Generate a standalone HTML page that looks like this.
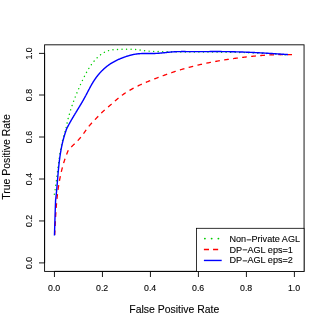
<!DOCTYPE html>
<html><head><meta charset="utf-8"><title>ROC</title>
<style>html,body{margin:0;padding:0;background:#fff;}body{width:327px;height:327px;overflow:hidden;}</style>
</head><body>
<svg width="327" height="327" viewBox="0 0 327 327" style="display:block;font-family:'Liberation Sans',sans-serif">
<rect width="327" height="327" fill="#fff"/>
<path d="M54.33,194.20L54.40,193.77L54.48,193.34L54.56,192.91L54.63,192.48L54.71,192.05L54.78,191.62L54.86,191.19L54.93,190.76L55.00,190.33L55.07,189.90L55.14,189.46L55.21,189.03L55.27,188.60L55.34,188.17L55.41,187.74L55.47,187.31L55.54,186.87L55.60,186.44L55.67,186.01L55.73,185.58L55.79,185.14L55.85,184.71L55.91,184.28L55.97,183.84L56.03,183.41L56.09,182.98L56.15,182.54L56.21,182.11L56.27,181.68L56.33,181.24L56.38,180.81L56.44,180.38L56.49,179.94L56.55,179.51L56.61,179.08L56.66,178.64L56.72,178.21L56.77,177.77L56.82,177.34L56.88,176.90L56.93,176.47L56.98,176.04L57.04,175.60L57.09,175.17L57.14,174.73L57.20,174.30L57.25,173.86L57.30,173.43L57.35,172.99L57.41,172.56L57.46,172.13L57.51,171.69L57.56,171.26L57.62,170.82L57.67,170.39L57.72,169.95L57.77,169.52L57.83,169.08L57.88,168.65L57.93,168.22L57.98,167.78L58.04,167.35L58.09,166.91L58.15,166.48L58.20,166.04L58.25,165.61L58.31,165.18L58.36,164.74L58.42,164.31L58.47,163.87L58.53,163.44L58.58,163.01L58.64,162.57L58.70,162.14L58.76,161.71L58.81,161.27L58.87,160.84L58.93,160.41L58.99,159.97L59.05,159.54L59.11,159.11L59.17,158.67L59.23,158.24L59.29,157.81L59.36,157.38L59.42,156.94L59.48,156.51L59.55,156.08L59.62,155.65L59.68,155.21L59.75,154.78L59.82,154.35L59.89,153.92L59.95,153.49L60.02,153.06L60.10,152.63L60.17,152.20L60.24,151.77L60.31,151.34L60.39,150.90L60.46,150.47L60.54,150.04L60.62,149.62L60.70,149.19L60.78,148.76L60.86,148.33L60.94,147.90L61.02,147.47L61.11,147.04L61.19,146.61L61.28,146.18L61.37,145.76L61.45,145.33L61.54,144.90L61.64,144.47L61.73,144.05L61.82,143.62L61.92,143.19L62.01,142.77L62.11,142.34L62.21,141.92L62.31,141.49L62.41,141.07L62.51,140.64L62.62,140.22L62.73,139.79L62.83,139.37L62.94,138.94L63.05,138.52L63.16,138.10L63.28,137.67L63.39,137.25L63.51,136.83L63.63,136.41L63.75,135.99L63.87,135.56L63.99,135.14L64.12,134.72L64.24,134.30L64.37,133.88L64.50,133.46L64.63,133.04L64.77,132.62L64.90,132.21L65.04,131.79L65.18,131.37L65.32,130.95L65.46,130.53L65.61,130.12L65.72,129.59L65.81,129.05L65.91,128.51L66.01,127.97L66.11,127.43L66.22,126.89L66.32,126.36L66.43,125.82L66.54,125.28L66.66,124.75L66.77,124.21L66.89,123.68L67.01,123.14L67.13,122.61L67.25,122.07L67.38,121.54L67.51,121.01L67.63,120.48L67.77,119.95L67.90,119.42L68.03,118.88L68.17,118.36L68.31,117.83L68.45,117.30L68.59,116.77L68.74,116.24L68.89,115.71L69.03,115.19L69.18,114.66L69.34,114.14L69.49,113.61L69.64,113.09L69.80,112.56L69.96,112.04L70.12,111.51L70.28,110.99L70.45,110.47L70.61,109.95L70.78,109.43L70.95,108.91L71.12,108.39L71.29,107.87L71.46,107.35L71.64,106.83L71.81,106.31L71.99,105.79L72.17,105.28L72.35,104.76L72.53,104.24L72.72,103.73L72.90,103.21L73.09,102.70L73.28,102.18L73.47,101.67L73.66,101.16L73.85,100.64L74.04,100.13L74.24,99.62L74.43,99.11L74.63,98.60L74.83,98.08L75.03,97.57L75.23,97.07L75.43,96.56L75.63,96.05L75.83,95.54L76.04,95.03L76.25,94.52L76.45,94.02L76.66,93.51L76.87,93.01L77.08,92.50L77.29,91.99L77.50,91.49L77.72,90.99L77.93,90.48L78.15,89.98L78.36,89.48L78.58,88.97L78.80,88.47L79.01,87.97L79.23,87.47L79.45,86.97L79.67,86.47L79.90,85.97L80.12,85.47L80.34,84.97L80.57,84.47L80.79,83.98L81.02,83.48L81.24,82.98L81.47,82.49L81.70,81.99L81.93,81.49L82.16,81.00L82.39,80.51L82.62,80.01L82.85,79.52L83.09,79.03L83.33,78.54L83.57,78.05L83.81,77.56L84.05,77.07L84.29,76.58L84.54,76.10L84.79,75.61L85.04,75.13L85.29,74.64L85.55,74.16L85.80,73.68L86.06,73.20L86.32,72.72L86.59,72.25L86.86,71.77L87.13,71.30L87.40,70.82L87.68,70.35L87.96,69.88L88.24,69.41L88.52,68.95L88.81,68.48L89.11,68.02L89.40,67.56L89.70,67.10L90.00,66.64L90.31,66.18L90.62,65.72L90.93,65.27L91.25,64.82L91.57,64.37L91.90,63.92L92.23,63.48L92.57,63.03L92.91,62.59L93.25,62.16L93.60,61.72L93.95,61.29L94.30,60.87L94.66,60.44L95.03,60.02L95.40,59.61L95.77,59.20L96.15,58.80L96.53,58.40L96.92,58.00L97.31,57.62L97.71,57.24L98.11,56.86L98.51,56.49L98.93,56.13L99.34,55.78L99.76,55.43L100.18,55.09L100.61,54.76L101.05,54.44L101.49,54.12L101.93,53.81L102.38,53.52L102.84,53.23L103.29,52.95L103.76,52.68L104.23,52.42L104.70,52.18L105.18,51.94L105.67,51.71L106.16,51.49L106.65,51.29L107.15,51.10L107.66,50.92L108.17,50.75L108.68,50.59L109.20,50.45L109.73,50.31L110.26,50.19L110.80,50.09L111.34,49.99L111.88,49.90L112.43,49.82L112.98,49.75L113.53,49.69L114.09,49.64L114.65,49.59L115.21,49.55L115.77,49.51L116.33,49.48L116.89,49.45L117.45,49.43L118.01,49.41L118.57,49.39L119.13,49.37L119.69,49.36L120.25,49.34L120.80,49.33L121.35,49.31L121.90,49.30L122.45,49.28L123.00,49.27L123.55,49.25L124.09,49.24L124.64,49.23L125.18,49.22L125.72,49.21L126.26,49.20L126.81,49.19L127.35,49.18L127.89,49.18L128.43,49.18L128.97,49.18L129.51,49.18L130.05,49.18L130.59,49.19L131.13,49.20L131.67,49.21L132.22,49.22L132.76,49.24L133.30,49.27L133.85,49.30L134.39,49.33L134.94,49.37L135.48,49.42L136.03,49.48L136.57,49.54L137.11,49.62L137.65,49.70L138.20,49.78L138.74,49.87L139.28,49.96L139.82,50.05L140.37,50.13L140.91,50.22L141.45,50.30L141.99,50.37L142.54,50.45L143.08,50.52L143.62,50.59L144.17,50.65L144.71,50.71L145.26,50.77L145.80,50.83L146.34,50.89L146.89,50.94L147.43,50.99L147.98,51.03L148.52,51.08L149.07,51.12L149.61,51.16L150.16,51.20L150.71,51.24L151.25,51.27L151.80,51.30L152.34,51.33L152.89,51.36L153.43,51.39L153.98,51.41L154.53,51.44L155.07,51.46L155.62,51.48L156.17,51.50L156.71,51.52L157.26,51.54L157.81,51.56L158.35,51.57L158.90,51.59L159.45,51.60L159.99,51.62L160.54,51.63L161.09,51.64L161.63,51.65L162.18,51.66L162.73,51.68L163.28,51.69L163.82,51.70L164.37,51.71L164.92,51.72L165.46,51.73L166.01,51.74L166.56,51.75L167.10,51.75L167.65,51.76L168.20,51.77L168.75,51.78L169.29,51.79L169.84,51.80L170.39,51.80L170.93,51.81L171.48,51.82L172.03,51.83L172.58,51.83L173.12,51.84L173.67,51.85L174.22,51.85L174.77,51.86L175.31,51.87L175.86,51.87L176.41,51.88L176.95,51.88L177.50,51.89L178.05,51.89L178.60,51.90L179.14,51.91L179.69,51.91L180.24,51.91L180.79,51.92L181.33,51.92L181.88,51.93L182.43,51.93L182.97,51.94L183.52,51.94L184.07,51.94L184.62,51.95L185.16,51.95L185.71,51.96L186.26,51.96L186.81,51.96L187.35,51.97L187.90,51.97L188.45,51.97L189.00,51.98L189.54,51.98L190.09,51.98L190.64,51.98L191.18,51.99L191.73,51.99L192.28,51.99L192.83,52.00L193.37,52.00L193.92,52.00L194.47,52.00L195.02,52.01L195.56,52.01L196.11,52.01L196.66,52.01L197.21,52.02L197.75,52.02L198.30,52.02L198.85,52.02L199.40,52.03L199.94,52.03L200.49,52.03L201.04,52.03L201.59,52.04L202.13,52.04L202.68,52.04L203.23,52.04L203.78,52.05L204.32,52.05L204.87,52.05L205.42,52.05L205.97,52.06L206.51,52.06L207.06,52.06L207.61,52.06L208.15,52.07L208.70,52.07L209.25,52.07L209.80,52.08L210.34,52.08L210.89,52.08L211.44,52.09L211.99,52.09L212.53,52.09L213.08,52.10L213.63,52.10L214.18,52.10L214.72,52.11L215.27,52.11L215.82,52.11L216.37,52.12L216.91,52.12L217.46,52.13L218.01,52.13L218.56,52.14L219.10,52.14L219.65,52.15L220.20,52.15L220.75,52.16L221.29,52.16L221.84,52.17L222.39,52.17L222.93,52.18L223.48,52.19L224.03,52.19L224.58,52.20L225.12,52.20L225.67,52.21L226.22,52.22L226.77,52.23L227.31,52.23L227.86,52.24L228.41,52.25L228.95,52.26L229.50,52.26L230.05,52.27L230.60,52.28L231.14,52.29L231.69,52.30L232.24,52.31L232.79,52.32L233.33,52.33L233.88,52.34L234.43,52.35L234.97,52.36L235.52,52.37L236.07,52.38L236.62,52.39L237.16,52.40L237.71,52.41L238.26,52.42L238.80,52.44L239.35,52.45L239.90,52.46L240.45,52.47L240.99,52.49L241.54,52.50L242.09,52.51L242.63,52.53L243.18,52.54L243.73,52.56L244.28,52.57L244.82,52.59L245.37,52.60L245.92,52.62L246.46,52.64L247.01,52.65L247.56,52.67L248.10,52.69L248.65,52.71L249.20,52.72L249.75,52.74L250.29,52.76L250.84,52.78L251.39,52.80L251.93,52.82L252.48,52.84L253.03,52.86L253.57,52.88L254.12,52.90L254.67,52.92L255.21,52.94L255.76,52.97L256.31,52.99L256.85,53.01L257.40,53.04L257.95,53.06L258.49,53.09L259.04,53.11L259.59,53.14L260.13,53.16L260.68,53.19L261.23,53.21L261.77,53.24L262.32,53.27L262.87,53.30L263.41,53.32L263.96,53.35L264.51,53.38L265.05,53.41L265.60,53.44L266.15,53.47L266.69,53.50L267.24,53.53L267.79,53.57L268.33,53.60L268.88,53.63L269.43,53.66L269.97,53.70L270.52,53.73L271.06,53.77L271.61,53.80L272.16,53.84L272.70,53.87L273.25,53.91L273.80,53.95L274.34,53.99L274.89,54.03L275.43,54.06L275.98,54.10L276.53,54.14L277.07,54.18L277.62,54.22L278.17,54.27L278.71,54.31L279.26,54.35L279.80,54.39L280.35,54.44L280.90,54.48L281.44,54.53L281.99,54.57L282.53,54.62L283.08,54.67L283.63,54.71L284.17,54.76L284.72,54.81L285.26,54.86L285.81,54.91L286.35,54.96L286.90,55.01L287.45,55.06L287.99,55.11" fill="none" stroke="#00cd00" stroke-width="1.45" stroke-dasharray="0.01 4.52" stroke-dashoffset="0" stroke-linecap="round" stroke-linejoin="round"/>
<path d="M54.68,235.58L54.72,234.70L54.76,233.83L54.80,232.95L54.84,232.08L54.89,231.20L54.93,230.32L54.97,229.44L55.01,228.57L55.05,227.69L55.09,226.81L55.14,225.93L55.18,225.05L55.22,224.17L55.27,223.29L55.31,222.41L55.36,221.53L55.40,220.65L55.45,219.77L55.50,218.88L55.54,218.00L55.59,217.12L55.64,216.24L55.70,215.36L55.75,214.47L55.80,213.59L55.86,212.71L55.92,211.83L55.98,210.95L56.04,210.06L56.10,209.18L56.16,208.30L56.23,207.42L56.29,206.54L56.36,205.65L56.44,204.77L56.51,203.89L56.58,203.01L56.66,202.13L56.74,201.25L56.82,200.37L56.91,199.49L57.00,198.61L57.09,197.73L57.18,196.85L57.28,195.98L57.37,195.10L57.48,194.22L57.58,193.34L57.69,192.47L57.80,191.59L57.91,190.72L58.03,189.84L58.15,188.97L58.27,188.09L58.40,187.22L58.53,186.35L58.66,185.48L58.80,184.61L58.94,183.74L59.08,182.87L59.23,182.00L59.39,181.13L59.54,180.27L59.70,179.40L59.87,178.54L60.04,177.67L60.21,176.81L60.39,175.95L60.57,175.09L60.76,174.23L60.95,173.37L61.14,172.51L61.34,171.66L61.55,170.80L61.76,169.95L61.98,169.09L62.20,168.24L62.42,167.39L62.65,166.54L62.89,165.69L63.13,164.85L63.37,164.00L63.62,163.16L63.88,162.31L64.14,161.47L64.41,160.63L64.69,159.79L64.97,158.96L65.25,158.12L65.54,157.29L65.84,156.45L66.14,155.62L66.45,154.79L66.77,153.96L67.09,153.14L67.42,152.31L67.75,151.49L68.09,150.67L68.44,149.85L68.76,149.44L69.11,149.09L69.47,148.73L69.83,148.38L70.19,148.03L70.55,147.68L70.91,147.33L71.28,146.97L71.64,146.62L72.00,146.27L72.37,145.92L72.73,145.57L73.10,145.22L73.46,144.87L73.83,144.52L74.19,144.17L74.55,143.81L74.91,143.46L75.28,143.10L75.64,142.75L76.00,142.39L76.35,142.03L76.71,141.67L77.06,141.31L77.42,140.94L77.77,140.58L78.11,140.21L78.46,139.84L78.80,139.46L79.14,139.09L79.48,138.71L79.81,138.33L80.14,137.95L80.47,137.56L80.80,137.17L81.12,136.78L81.43,136.38L81.75,135.98L82.06,135.58L82.37,135.17L82.67,134.77L82.98,134.36L83.28,133.95L83.58,133.54L83.88,133.13L84.17,132.71L84.47,132.30L84.77,131.88L85.06,131.47L85.36,131.05L85.65,130.64L85.95,130.23L86.25,129.81L86.55,129.40L86.85,128.99L87.15,128.58L87.45,128.18L87.76,127.77L88.07,127.37L88.38,126.97L88.69,126.57L89.01,126.18L89.33,125.78L89.66,125.40L89.98,125.01L90.31,124.63L90.65,124.25L90.98,123.87L91.32,123.49L91.66,123.12L92.00,122.75L92.35,122.38L92.69,122.01L93.04,121.64L93.39,121.28L93.74,120.91L94.09,120.55L94.44,120.18L94.79,119.82L95.15,119.46L95.50,119.10L95.85,118.74L96.20,118.38L96.56,118.01L96.91,117.65L97.26,117.29L97.61,116.93L97.96,116.56L98.31,116.20L98.66,115.83L99.01,115.47L99.36,115.10L99.71,114.74L100.06,114.37L100.41,114.01L100.76,113.65L101.12,113.29L101.47,112.94L101.83,112.58L102.19,112.24L102.56,111.89L102.92,111.54L103.29,111.20L103.67,110.86L104.04,110.53L104.41,110.19L104.79,109.86L105.17,109.53L105.55,109.19L105.93,108.86L106.32,108.54L106.70,108.21L107.09,107.88L107.47,107.55L107.86,107.23L108.25,106.90L108.64,106.57L109.02,106.25L109.41,105.92L109.80,105.59L110.19,105.26L110.58,104.93L110.97,104.60L111.36,104.27L111.74,103.93L112.13,103.60L112.52,103.26L112.90,102.92L113.29,102.58L113.67,102.24L114.06,101.90L114.44,101.56L114.83,101.21L115.21,100.87L115.60,100.53L115.98,100.19L116.37,99.85L116.76,99.51L117.15,99.17L117.54,98.84L117.93,98.51L118.32,98.18L118.72,97.85L119.12,97.52L119.51,97.20L119.92,96.88L120.32,96.57L120.72,96.26L121.13,95.95L121.53,95.64L121.94,95.34L122.35,95.04L122.77,94.74L123.18,94.44L123.60,94.15L124.02,93.86L124.43,93.58L124.85,93.29L125.28,93.01L125.70,92.73L126.13,92.46L126.55,92.18L126.98,91.91L127.41,91.64L127.84,91.38L128.27,91.11L128.71,90.85L129.14,90.59L129.58,90.34L130.02,90.08L130.46,89.83L130.90,89.58L131.34,89.33L131.78,89.08L132.23,88.84L132.67,88.60L133.12,88.36L133.56,88.12L134.01,87.89L134.46,87.65L134.91,87.42L135.37,87.19L135.82,86.96L136.27,86.73L136.73,86.51L137.18,86.29L137.64,86.06L138.10,85.85L138.55,85.63L139.01,85.41L139.47,85.19L139.94,84.98L140.40,84.77L140.86,84.56L141.32,84.35L141.79,84.14L142.25,83.93L142.72,83.73L143.18,83.52L143.65,83.32L144.12,83.12L144.59,82.92L145.05,82.72L145.52,82.52L145.99,82.32L146.46,82.13L146.93,81.93L147.40,81.74L147.88,81.54L148.35,81.35L148.82,81.16L149.29,80.97L149.77,80.78L150.24,80.59L150.71,80.40L151.19,80.21L151.66,80.02L152.14,79.84L152.61,79.65L153.09,79.47L153.56,79.28L154.04,79.10L154.51,78.91L154.99,78.73L155.46,78.54L155.94,78.36L156.41,78.18L156.89,77.99L157.37,77.81L157.84,77.63L158.32,77.45L158.80,77.27L159.27,77.09L159.75,76.91L160.23,76.73L160.70,76.55L161.18,76.37L161.66,76.20L162.14,76.02L162.62,75.84L163.09,75.67L163.57,75.49L164.05,75.32L164.53,75.14L165.01,74.97L165.49,74.80L165.97,74.62L166.45,74.45L166.92,74.28L167.40,74.11L167.88,73.94L168.36,73.77L168.84,73.60L169.33,73.43L169.81,73.27L170.29,73.10L170.77,72.94L171.25,72.77L171.73,72.61L172.21,72.44L172.70,72.28L173.18,72.12L173.66,71.96L174.14,71.80L174.63,71.64L175.11,71.48L175.59,71.32L176.08,71.17L176.56,71.01L177.05,70.86L177.53,70.70L178.01,70.55L178.50,70.40L178.99,70.25L179.47,70.10L179.96,69.95L180.44,69.80L180.93,69.65L181.42,69.50L181.90,69.36L182.39,69.21L182.88,69.07L183.37,68.93L183.85,68.79L184.34,68.64L184.83,68.50L185.32,68.36L185.81,68.23L186.30,68.09L186.79,67.95L187.28,67.82L187.77,67.68L188.26,67.55L188.75,67.42L189.24,67.28L189.73,67.15L190.22,67.02L190.72,66.89L191.21,66.76L191.70,66.64L192.19,66.51L192.68,66.38L193.18,66.26L193.67,66.13L194.16,66.01L194.66,65.89L195.15,65.77L195.64,65.64L196.14,65.52L196.63,65.41L197.13,65.29L197.62,65.17L198.12,65.05L198.61,64.94L199.11,64.82L199.60,64.71L200.10,64.59L200.60,64.48L201.09,64.37L201.59,64.26L202.09,64.14L202.58,64.04L203.08,63.93L203.58,63.82L204.07,63.71L204.57,63.60L205.07,63.50L205.57,63.39L206.06,63.29L206.56,63.18L207.06,63.08L207.56,62.98L208.06,62.88L208.56,62.77L209.06,62.67L209.56,62.57L210.05,62.48L210.55,62.38L211.05,62.28L211.55,62.18L212.05,62.09L212.55,61.99L213.05,61.90L213.55,61.80L214.06,61.71L214.56,61.62L215.06,61.52L215.56,61.43L216.06,61.34L216.56,61.25L217.06,61.16L217.56,61.07L218.06,60.98L218.57,60.90L219.07,60.81L219.57,60.72L220.07,60.64L220.57,60.55L221.08,60.47L221.58,60.38L222.08,60.30L222.58,60.22L223.09,60.14L223.59,60.05L224.09,59.97L224.59,59.89L225.10,59.81L225.60,59.73L226.10,59.66L226.61,59.58L227.11,59.50L227.61,59.42L228.12,59.35L228.62,59.27L229.13,59.20L229.63,59.12L230.13,59.05L230.64,58.97L231.14,58.90L231.65,58.83L232.15,58.76L232.65,58.68L233.16,58.61L233.66,58.54L234.17,58.47L234.67,58.40L235.18,58.33L235.68,58.26L236.19,58.20L236.69,58.13L237.19,58.06L237.70,57.99L238.20,57.93L238.71,57.86L239.21,57.80L239.72,57.73L240.22,57.67L240.73,57.60L241.23,57.54L241.74,57.48L242.24,57.42L242.75,57.35L243.25,57.29L243.76,57.23L244.26,57.17L244.77,57.11L245.28,57.05L245.78,56.99L246.29,56.94L246.79,56.88L247.30,56.82L247.80,56.77L248.31,56.71L248.81,56.65L249.32,56.60L249.83,56.55L250.33,56.49L250.84,56.44L251.34,56.39L251.85,56.34L252.36,56.28L252.86,56.23L253.37,56.18L253.87,56.14L254.38,56.09L254.89,56.04L255.39,55.99L255.90,55.95L256.41,55.90L256.91,55.85L257.42,55.81L257.93,55.77L258.43,55.72L258.94,55.68L259.45,55.64L259.95,55.60L260.46,55.56L260.97,55.52L261.47,55.48L261.98,55.44L262.49,55.40L263.00,55.36L263.50,55.33L264.01,55.29L264.52,55.26L265.02,55.22L265.53,55.19L266.04,55.16L266.55,55.13L267.05,55.10L267.56,55.07L268.07,55.04L268.58,55.01L269.09,54.98L269.59,54.95L270.10,54.93L270.61,54.90L271.12,54.88L271.63,54.85L272.13,54.83L272.64,54.81L273.15,54.79L273.66,54.77L274.17,54.75L274.68,54.73L275.19,54.71L275.69,54.69L276.20,54.68L276.71,54.66L277.22,54.65L277.73,54.63L278.24,54.62L278.75,54.61L279.26,54.60L279.77,54.59L280.28,54.58L280.79,54.57L281.30,54.56L281.81,54.56L282.32,54.55L282.83,54.55L283.33,54.54L283.84,54.54L284.35,54.54L284.86,54.54L285.37,54.54L285.89,54.54L286.40,54.54L286.91,54.54L287.42,54.55L287.93,54.55L288.44,54.56L288.95,54.56L289.46,54.57L289.97,54.58L290.48,54.59L290.99,54.60L291.50,54.61L292.01,54.63" fill="none" stroke="#ff0000" stroke-width="1.3" stroke-dasharray="4.7 4.38" stroke-dashoffset="-0.5" stroke-linejoin="round"/>
<path d="M54.45,235.60L54.75,226.00L55.05,216.00L55.35,207.00L55.60,200.00L55.69,199.53L55.75,199.05L55.80,198.58L55.86,198.11L55.91,197.64L55.96,197.17L56.02,196.70L56.07,196.23L56.12,195.75L56.17,195.28L56.22,194.81L56.26,194.34L56.31,193.86L56.36,193.39L56.40,192.92L56.45,192.45L56.50,191.97L56.54,191.50L56.59,191.03L56.63,190.55L56.67,190.08L56.72,189.61L56.76,189.13L56.80,188.66L56.84,188.19L56.89,187.71L56.93,187.24L56.97,186.76L57.01,186.29L57.05,185.82L57.09,185.34L57.13,184.87L57.17,184.39L57.21,183.92L57.25,183.45L57.29,182.97L57.33,182.50L57.37,182.02L57.41,181.55L57.45,181.07L57.48,180.60L57.52,180.13L57.56,179.65L57.60,179.18L57.64,178.70L57.68,178.23L57.72,177.75L57.76,177.28L57.80,176.80L57.84,176.33L57.88,175.86L57.92,175.38L57.96,174.91L58.00,174.43L58.04,173.96L58.09,173.49L58.13,173.01L58.17,172.54L58.21,172.06L58.26,171.59L58.30,171.12L58.34,170.64L58.39,170.17L58.43,169.69L58.48,169.22L58.52,168.75L58.57,168.27L58.62,167.80L58.66,167.33L58.71,166.85L58.76,166.38L58.81,165.91L58.86,165.44L58.91,164.96L58.96,164.49L59.01,164.02L59.07,163.55L59.12,163.07L59.17,162.60L59.23,162.13L59.28,161.66L59.34,161.19L59.40,160.71L59.46,160.24L59.52,159.77L59.58,159.30L59.64,158.83L59.70,158.36L59.76,157.89L59.83,157.42L59.89,156.95L59.96,156.48L60.03,156.01L60.10,155.54L60.17,155.07L60.24,154.60L60.31,154.13L60.38,153.66L60.46,153.19L60.53,152.73L60.61,152.26L60.69,151.79L60.77,151.32L60.85,150.86L60.93,150.39L61.02,149.92L61.10,149.45L61.19,148.99L61.28,148.52L61.37,148.06L61.46,147.59L61.55,147.12L61.64,146.66L61.74,146.19L61.84,145.73L61.93,145.27L62.03,144.80L62.14,144.34L62.24,143.87L62.34,143.41L62.45,142.95L62.56,142.49L62.67,142.02L62.78,141.56L62.90,141.10L63.01,140.64L63.13,140.18L63.25,139.72L63.37,139.26L63.49,138.80L63.62,138.34L63.74,137.88L63.87,137.42L64.00,136.96L64.14,136.50L64.27,136.04L64.41,135.58L64.54,135.13L64.69,134.67L64.83,134.21L64.97,133.76L65.12,133.30L65.27,132.85L65.42,132.39L65.57,131.94L65.73,131.48L65.89,131.03L66.05,130.58L66.21,130.12L66.26,129.63L66.49,129.15L66.72,128.68L66.95,128.21L67.19,127.75L67.43,127.28L67.66,126.81L67.90,126.35L68.14,125.89L68.39,125.42L68.63,124.96L68.88,124.50L69.13,124.04L69.38,123.59L69.63,123.13L69.88,122.67L70.13,122.22L70.39,121.76L70.64,121.31L70.90,120.86L71.16,120.40L71.42,119.95L71.68,119.50L71.94,119.05L72.21,118.60L72.47,118.15L72.73,117.70L73.00,117.26L73.27,116.81L73.53,116.36L73.80,115.91L74.07,115.47L74.34,115.02L74.61,114.58L74.87,114.13L75.14,113.69L75.41,113.24L75.69,112.80L75.96,112.35L76.23,111.91L76.50,111.46L76.77,111.02L77.04,110.57L77.31,110.13L77.58,109.68L77.85,109.24L78.13,108.79L78.40,108.35L78.67,107.90L78.94,107.46L79.21,107.01L79.48,106.57L79.75,106.12L80.01,105.68L80.28,105.23L80.55,104.78L80.82,104.33L81.08,103.89L81.35,103.44L81.61,102.99L81.87,102.54L82.14,102.09L82.40,101.64L82.66,101.18L82.92,100.73L83.18,100.28L83.44,99.82L83.69,99.37L83.95,98.91L84.20,98.46L84.45,98.00L84.70,97.54L84.95,97.08L85.20,96.62L85.45,96.16L85.69,95.70L85.94,95.24L86.18,94.77L86.43,94.31L86.67,93.85L86.91,93.38L87.16,92.92L87.40,92.45L87.64,91.99L87.88,91.52L88.13,91.06L88.37,90.60L88.61,90.13L88.86,89.67L89.10,89.21L89.35,88.75L89.59,88.28L89.84,87.82L90.09,87.36L90.34,86.90L90.59,86.45L90.84,85.99L91.10,85.53L91.35,85.08L91.61,84.63L91.87,84.17L92.14,83.72L92.40,83.27L92.67,82.83L92.94,82.38L93.21,81.94L93.49,81.49L93.77,81.05L94.05,80.62L94.33,80.18L94.62,79.75L94.91,79.32L95.21,78.89L95.50,78.46L95.81,78.04L96.11,77.61L96.42,77.19L96.73,76.78L97.05,76.36L97.37,75.95L97.69,75.54L98.02,75.14L98.35,74.74L98.68,74.34L99.02,73.94L99.36,73.55L99.70,73.16L100.05,72.77L100.40,72.38L100.75,72.00L101.11,71.62L101.47,71.25L101.83,70.88L102.20,70.51L102.57,70.15L102.95,69.79L103.32,69.43L103.70,69.07L104.09,68.72L104.48,68.38L104.87,68.04L105.26,67.70L105.66,67.36L106.06,67.03L106.46,66.70L106.87,66.38L107.28,66.06L107.69,65.75L108.11,65.44L108.53,65.13L108.96,64.83L109.38,64.53L109.81,64.24L110.24,63.95L110.68,63.66L111.12,63.38L111.56,63.11L112.01,62.84L112.46,62.57L112.91,62.31L113.36,62.05L113.82,61.79L114.28,61.54L114.74,61.29L115.20,61.05L115.67,60.81L116.14,60.58L116.61,60.35L117.08,60.12L117.55,59.90L118.03,59.68L118.51,59.46L118.99,59.25L119.47,59.04L119.95,58.83L120.44,58.63L120.92,58.43L121.41,58.24L121.90,58.04L122.39,57.85L122.88,57.67L123.38,57.49L123.87,57.31L124.36,57.13L124.86,56.96L125.36,56.79L125.85,56.62L126.35,56.45L126.85,56.29L127.35,56.13L127.85,55.98L128.35,55.82L128.85,55.68L129.35,55.53L129.85,55.39L130.35,55.25L130.86,55.12L131.36,54.99L131.86,54.87L132.37,54.75L132.88,54.64L133.38,54.53L133.89,54.43L134.40,54.33L134.91,54.24L135.42,54.16L135.93,54.08L136.44,54.00L136.96,53.94L137.47,53.88L137.98,53.82L138.50,53.77L139.02,53.73L139.53,53.69L140.05,53.65L140.57,53.62L141.09,53.59L141.61,53.57L142.13,53.55L142.65,53.54L143.17,53.52L143.69,53.51L144.21,53.50L144.73,53.50L145.25,53.49L145.77,53.49L146.30,53.49L146.82,53.49L147.34,53.49L147.86,53.49L148.39,53.49L148.91,53.49L149.43,53.49L149.95,53.49L150.48,53.49L151.00,53.49L151.52,53.49L152.04,53.49L152.57,53.48L153.09,53.47L153.61,53.47L154.13,53.46L154.65,53.44L155.18,53.43L155.70,53.41L156.22,53.39L156.74,53.36L157.26,53.34L157.78,53.31L158.30,53.27L158.82,53.24L159.34,53.20L159.86,53.16L160.38,53.11L160.90,53.06L161.42,53.01L161.94,52.96L162.46,52.91L162.97,52.86L163.49,52.80L164.01,52.75L164.53,52.69L165.05,52.63L165.57,52.58L166.09,52.52L166.60,52.46L167.12,52.41L167.64,52.35L168.16,52.29L168.68,52.24L169.20,52.19L169.72,52.13L170.23,52.08L170.75,52.04L171.27,51.99L171.79,51.95L172.31,51.90L172.83,51.87L173.35,51.83L173.87,51.80L174.39,51.77L174.91,51.74L175.43,51.71L175.95,51.69L176.47,51.67L176.99,51.65L177.51,51.63L178.03,51.62L178.55,51.61L179.07,51.60L179.59,51.59L180.11,51.58L180.63,51.58L181.16,51.57L181.68,51.57L182.20,51.57L182.72,51.56L183.24,51.57L183.76,51.57L184.28,51.57L184.81,51.57L185.33,51.57L185.85,51.58L186.37,51.58L186.89,51.59L187.41,51.59L187.94,51.59L188.46,51.60L188.98,51.60L189.50,51.61L190.02,51.61L190.55,51.61L191.07,51.62L191.59,51.62L192.11,51.62L192.63,51.62L193.16,51.63L193.68,51.63L194.20,51.63L194.72,51.63L195.24,51.63L195.76,51.63L196.29,51.63L196.81,51.63L197.33,51.63L197.85,51.63L198.37,51.63L198.90,51.62L199.42,51.62L199.94,51.62L200.46,51.62L200.98,51.62L201.50,51.61L202.03,51.61L202.55,51.61L203.07,51.61L203.59,51.60L204.11,51.60L204.63,51.60L205.16,51.60L205.68,51.59L206.20,51.59L206.72,51.59L207.24,51.59L207.77,51.58L208.29,51.58L208.81,51.58L209.33,51.58L209.85,51.57L210.37,51.57L210.90,51.57L211.42,51.57L211.94,51.57L212.46,51.56L212.98,51.56L213.50,51.56L214.02,51.56L214.55,51.56L215.07,51.56L215.59,51.56L216.11,51.56L216.63,51.56L217.15,51.56L217.68,51.56L218.20,51.56L218.72,51.56L219.24,51.56L219.76,51.57L220.28,51.57L220.80,51.57L221.33,51.57L221.85,51.58L222.37,51.58L222.89,51.59L223.41,51.59L223.93,51.60L224.45,51.60L224.98,51.61L225.50,51.61L226.02,51.62L226.54,51.63L227.06,51.64L227.58,51.65L228.10,51.65L228.63,51.66L229.15,51.67L229.67,51.68L230.19,51.69L230.71,51.70L231.23,51.71L231.75,51.73L232.27,51.74L232.80,51.75L233.32,51.76L233.84,51.78L234.36,51.79L234.88,51.80L235.40,51.82L235.92,51.83L236.44,51.85L236.97,51.86L237.49,51.88L238.01,51.89L238.53,51.91L239.05,51.92L239.57,51.94L240.09,51.96L240.61,51.98L241.13,51.99L241.66,52.01L242.18,52.03L242.70,52.05L243.22,52.07L243.74,52.09L244.26,52.11L244.78,52.13L245.30,52.15L245.82,52.17L246.35,52.19L246.87,52.21L247.39,52.23L247.91,52.25L248.43,52.28L248.95,52.30L249.47,52.32L249.99,52.34L250.51,52.37L251.03,52.39L251.55,52.42L252.08,52.44L252.60,52.46L253.12,52.49L253.64,52.51L254.16,52.54L254.68,52.56L255.20,52.59L255.72,52.62L256.24,52.64L256.76,52.67L257.28,52.70L257.81,52.72L258.33,52.75L258.85,52.78L259.37,52.80L259.89,52.83L260.41,52.86L260.93,52.89L261.45,52.92L261.97,52.95L262.49,52.98L263.01,53.00L263.53,53.03L264.05,53.06L264.57,53.09L265.10,53.12L265.62,53.15L266.14,53.18L266.66,53.22L267.18,53.25L267.70,53.28L268.22,53.31L268.74,53.34L269.26,53.37L269.78,53.40L270.30,53.44L270.82,53.47L271.34,53.50L271.86,53.53L272.38,53.57L272.90,53.60L273.43,53.63L273.95,53.66L274.47,53.70L274.99,53.73L275.51,53.76L276.03,53.80L276.55,53.83L277.07,53.87L277.59,53.90L278.11,53.94L278.63,53.97L279.15,54.00L279.67,54.04L280.19,54.07L280.71,54.11L281.23,54.14L281.75,54.18L282.27,54.21L282.79,54.25L283.31,54.29L283.83,54.32L284.35,54.36L284.87,54.39L285.40,54.43L285.92,54.46L286.44,54.50L286.96,54.54L287.48,54.57L288.00,54.61" fill="none" stroke="#0000ff" stroke-width="1.4" stroke-linejoin="round"/>
<rect x="44.6" y="44.82" width="259.45" height="226.58" fill="none" stroke="#000" stroke-width="0.9"/>
<g stroke="#000" stroke-width="0.9" fill="none">
<path d="M54.45,271.4H294.4"/>
<path d="M44.6,262.9V53.4"/>
<path d="M54.45,271.4v5.6"/>
<path d="M44.6,262.90h-5.6"/>
<path d="M102.44,271.4v5.6"/>
<path d="M44.6,220.95h-5.6"/>
<path d="M150.43,271.4v5.6"/>
<path d="M44.6,179.00h-5.6"/>
<path d="M198.42,271.4v5.6"/>
<path d="M44.6,137.00h-5.6"/>
<path d="M246.41,271.4v5.6"/>
<path d="M44.6,95.00h-5.6"/>
<path d="M294.40,271.4v5.6"/>
<path d="M44.6,53.40h-5.6"/>
</g>
<rect x="196.4" y="228.3" width="107.65" height="43.10" fill="#fff" stroke="#000" stroke-width="0.8"/>
<path d="M204.9,238.6h14" fill="none" stroke="#00cd00" stroke-width="1.85" stroke-dasharray="0.01 6.74" stroke-linecap="round"/>
<path d="M203.9,249.5h18" fill="none" stroke="#ff0000" stroke-width="1.3" stroke-dasharray="5.1 4.05"/>
<path d="M203.9,260.45h17.8" fill="none" stroke="#0000ff" stroke-width="1.4"/>
<g opacity="0.99" stroke="#000" stroke-width="0.12">
<g font-size="8.8" fill="#000" text-anchor="middle">
<text x="54.15" y="290.8">0.0</text>
<text transform="translate(31.7,262.95) rotate(-90)">0.0</text>
<text x="102.14" y="290.8">0.2</text>
<text transform="translate(31.7,221.00) rotate(-90)">0.2</text>
<text x="150.13" y="290.8">0.4</text>
<text transform="translate(31.7,179.05) rotate(-90)">0.4</text>
<text x="198.12" y="290.8">0.6</text>
<text transform="translate(31.7,137.05) rotate(-90)">0.6</text>
<text x="246.11" y="290.8">0.8</text>
<text transform="translate(31.7,95.05) rotate(-90)">0.8</text>
<text x="294.10" y="290.8">1.0</text>
<text transform="translate(31.7,53.45) rotate(-90)">1.0</text>
</g>
<g font-size="10.45" fill="#000" text-anchor="middle">
<text x="174.3" y="312.7">False Positive Rate</text>
<text transform="translate(9.9,157.0) rotate(-90)">True Positive Rate</text>
</g>
<g font-size="9.1" fill="#000">
<text x="229.5" y="242.0">Non<tspan dy="0.6">−</tspan><tspan dy="-0.6">Private AGL</tspan></text>
<text x="229.5" y="252.5">DP<tspan dy="0.6">−</tspan><tspan dy="-0.6">AGL eps=1</tspan></text>
<text x="229.5" y="263.4">DP<tspan dy="0.6">−</tspan><tspan dy="-0.6">AGL eps=2</tspan></text>
</g>
</g>
</svg>
</body></html>
